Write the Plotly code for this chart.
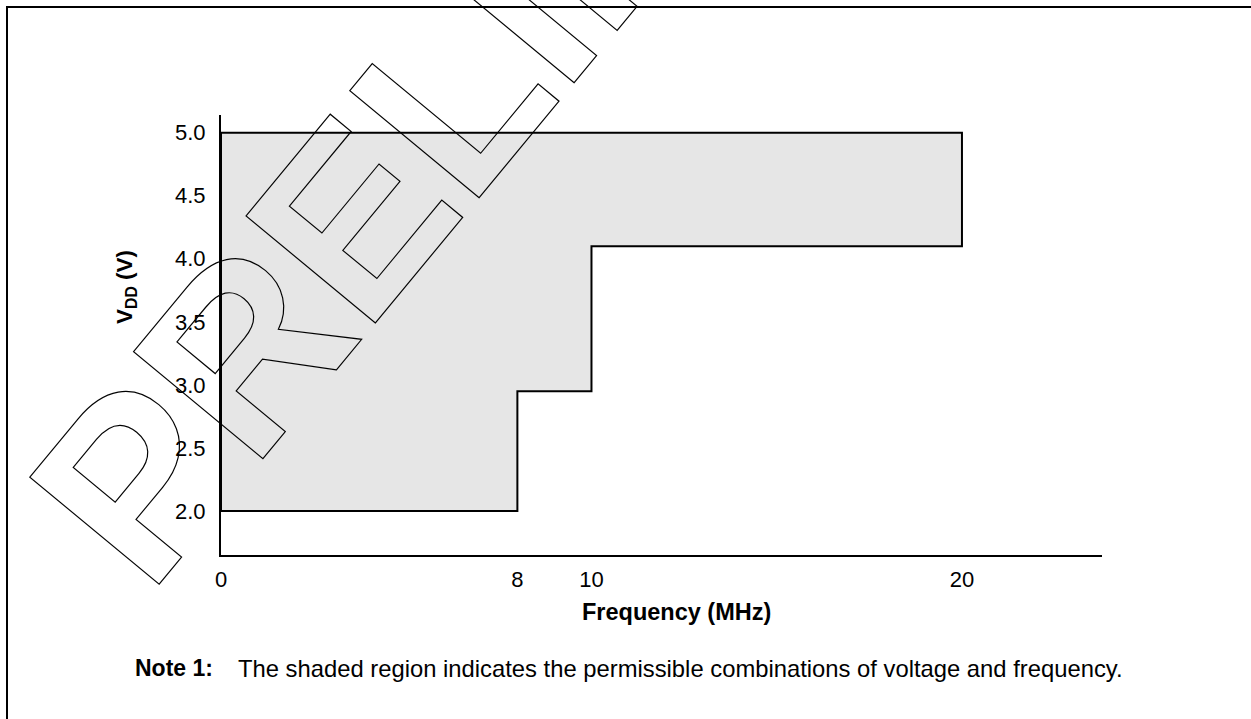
import plotly.graph_objects as go

# Operating envelope: for each supply band, the highest allowed clock
band_vdd_min = [2.0, 2.95, 4.1]   # V, lower edge of each band
band_fmax = [8, 10, 20]           # MHz, max frequency within that band
vdd_max = 5.0                     # V, upper supply limit

x_ticks = [0, 8, 10, 20]
x_tick_text = ["0", "8", "10", "20"]
y_ticks = [2.0, 2.5, 3.0, 3.5, 4.0, 4.5, 5.0]

# Build the stepped outline of the permitted region
poly_x = [0]
poly_y = [band_vdd_min[0]]
for i, f in enumerate(band_fmax):
    poly_x.append(f)
    poly_y.append(band_vdd_min[i])
    top = band_vdd_min[i + 1] if i + 1 < len(band_fmax) else vdd_max
    poly_x.append(f)
    poly_y.append(top)
poly_x += [0, 0]
poly_y += [vdd_max, band_vdd_min[0]]

FONT = "Liberation Sans, Arial, Helvetica, sans-serif"

fig = go.Figure()
fig.add_trace(go.Scatter(
    x=poly_x, y=poly_y, mode="lines", fill="toself",
    fillcolor="#e6e6e6", line=dict(color="black", width=2),
    hoverinfo="skip", showlegend=False,
))

W, H = 1251, 719
L, R, T, B = 221, 149, 115, 164
pw, ph = W - L - R, H - T - B


def px(xp):
    return (xp - L) / pw


def py(yp):
    return (H - B - yp) / ph


fig.update_layout(
    width=W, height=H, autosize=False,
    margin=dict(l=L, r=R, t=T, b=B, pad=0),
    paper_bgcolor="white", plot_bgcolor="white",
    font=dict(family=FONT, size=22, color="black"),
    xaxis=dict(
        range=[0, 23.78], tickvals=x_ticks, ticktext=x_tick_text,
        showgrid=False, zeroline=False, showline=True, linecolor="black",
        linewidth=2, ticks="", ticklabelstandoff=4,
        tickfont=dict(family=FONT, size=22, color="black"),
    ),
    yaxis=dict(
        range=[1.651, 5.14], tickvals=y_ticks, tickformat=".1f",
        showgrid=False, zeroline=False, showline=True, linecolor="black",
        linewidth=2, ticks="", ticklabelstandoff=9,
        tickfont=dict(family=FONT, size=22, color="black"),
    ),
    showlegend=False,
)

# Outer frame of the figure panel
fig.add_shape(type="rect", xref="paper", yref="paper",
              x0=px(7), x1=2.0, y0=-1.0, y1=py(7),
              line=dict(color="black", width=2), fillcolor="rgba(0,0,0,0)")

# Axis titles and note
fig.add_annotation(text="<b>Frequency (MHz)</b>", xref="paper", yref="paper",
                   x=px(676.5), y=py(612), showarrow=False,
                   xanchor="center", yanchor="middle",
                   font=dict(family=FONT, size=23.5, color="black"))
fig.add_annotation(text="<b>V<sub>DD</sub> (V)</b>", xref="paper", yref="paper",
                   x=px(126), y=py(287), showarrow=False, textangle=-90,
                   xanchor="center", yanchor="middle",
                   font=dict(family=FONT, size=22.5, color="black"))
fig.add_annotation(text="<b>Note 1:</b>", xref="paper", yref="paper",
                   x=px(133), y=py(668), showarrow=False,
                   xanchor="left", yanchor="middle",
                   font=dict(family=FONT, size=23, color="black"))
fig.add_annotation(text="The shaded region indicates the permissible combinations of voltage and frequency.",
                   xref="paper", yref="paper",
                   x=px(236), y=py(668), showarrow=False,
                   xanchor="left", yanchor="middle",
                   font=dict(family=FONT, size=23.8, color="black"))

# Outlined diagonal watermark
fig.add_annotation(text="PRELIMINARY", xref="paper", yref="paper",
                   x=px(617), y=py(-101), showarrow=False, textangle=-50.4,
                   xanchor="center", yanchor="middle",
                   font=dict(family=FONT, size=244, color="black", weight="bold"))

outline_js = """
var gd = document.getElementById('{plot_id}');
function outlineMark() {
  gd.querySelectorAll('text.annotation-text').forEach(function (t) {
    if (t.textContent === 'PRELIMINARY') {
      t.style.fill = 'none';
      t.style.stroke = '#000';
      t.style.strokeWidth = '1.2px';
    }
  });
}
outlineMark();
gd.on('plotly_afterplot', outlineMark);
"""

fig.write_html("out.html", post_script=outline_js, config={"displayModeBar": False})
